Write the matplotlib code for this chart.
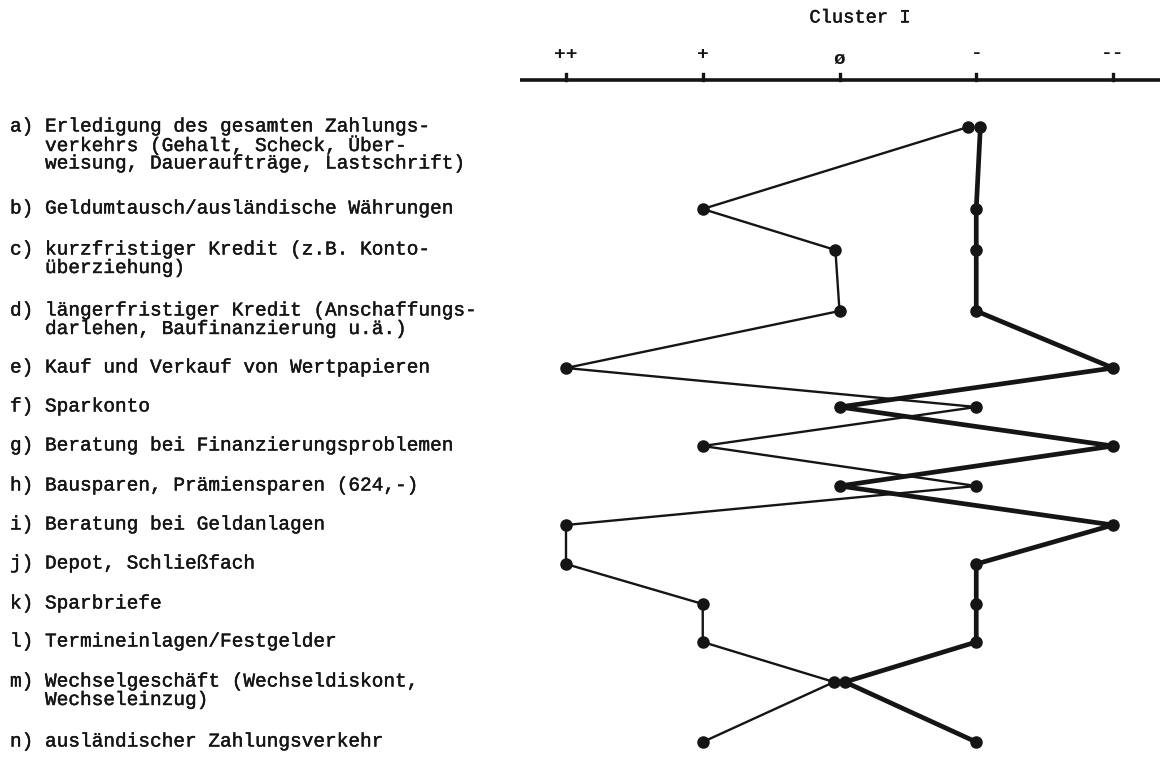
import matplotlib.pyplot as plt
import matplotlib.patheffects as pe

# ---------------------------
# 1. DATA
# ---------------------------
scale_labels = ['++', '+', 'ø', '-', '--']
scale_values = [1, 2, 3, 4, 5]

items = [
    'a) Erledigung des gesamten Zahlungs-\n   verkehrs (Gehalt, Scheck, Über-\n   weisung, Daueraufträge, Lastschrift)',
    'b) Geldumtausch/ausländische Währungen',
    'c) kurzfristiger Kredit (z.B. Konto-\n   überziehung)',
    'd) längerfristiger Kredit (Anschaffungs-\n   darlehen, Baufinanzierung u.ä.)',
    'e) Kauf und Verkauf von Wertpapieren',
    'f) Sparkonto',
    'g) Beratung bei Finanzierungsproblemen',
    'h) Bausparen, Prämiensparen (624,-)',
    'i) Beratung bei Geldanlagen',
    'j) Depot, Schließfach',
    'k) Sparbriefe',
    'l) Termineinlagen/Festgelder',
    'm) Wechselgeschäft (Wechseldiskont,\n   Wechseleinzug)',
    'n) ausländischer Zahlungsverkehr',
]

# profile values (1 = ++ ... 5 = --)
profile_thin = [3.94, 2, 2.97, 3, 1, 4, 2, 4, 1, 1, 2, 2, 2.96, 2]
profile_thick = [4.03, 4, 4, 4, 5, 3, 5, 3, 5, 4, 4, 4, 3.04, 4]

# ---------------------------
# 2. LAYOUT
# ---------------------------
# vertical position (pixels from top) of each item's first text line
row_y = [127, 209, 250, 311, 368, 407, 446, 486, 525, 564, 604, 642, 682, 742]
line_gap = 18.5
axis_y = 80
ink = '#151515'
mono = 'Liberation Mono'
heavy = [pe.withStroke(linewidth=0.3, foreground=ink)]

fig = plt.figure(figsize=(11.6, 7.57), dpi=100)
ax = fig.add_axes([0, 0, 1, 1])
# x: rating units, 1 -> 566 px, 5 -> 1113 px
step = (1113 - 566) / 4
x0 = 1 - 566 / step
ax.set_xlim(x0, 1 + (1160 - 566) / step)
ax.set_ylim(757, 0)
ax.axis('off')

# scale axis
ax.plot([1 - 46 / step, 1 + (1160 - 566) / step], [axis_y, axis_y],
        color=ink, lw=2.6, solid_capstyle='butt')
for v, lab in zip(scale_values, scale_labels):
    ax.plot([v, v], [axis_y, axis_y - 6], color=ink, lw=2.4)
    ax.text(v, 60 if lab == 'ø' else 54, lab, ha='center', va='center',
            fontsize=14, family=mono, color=ink, fontweight='bold')
ax.text(3.15, 18, 'Cluster I', ha='center', va='center', fontsize=13.5,
        family=mono, color=ink, path_effects=heavy)

# item labels
for y, lab in zip(row_y, items):
    for i, line in enumerate(lab.split('\n')):
        ax.text(x0 + 10 / step, y + i * line_gap, line,
                ha='left', va='center', fontsize=14, family=mono,
                color=ink, path_effects=heavy)

# profiles
ax.plot(profile_thin, row_y, color=ink, lw=1.7, marker='o', ms=8,
        solid_joinstyle='round')
ax.plot(profile_thick, row_y, color=ink, lw=3.4, marker='o', ms=8,
        solid_joinstyle='round')

fig.savefig('out.png', dpi=100, facecolor='white')
